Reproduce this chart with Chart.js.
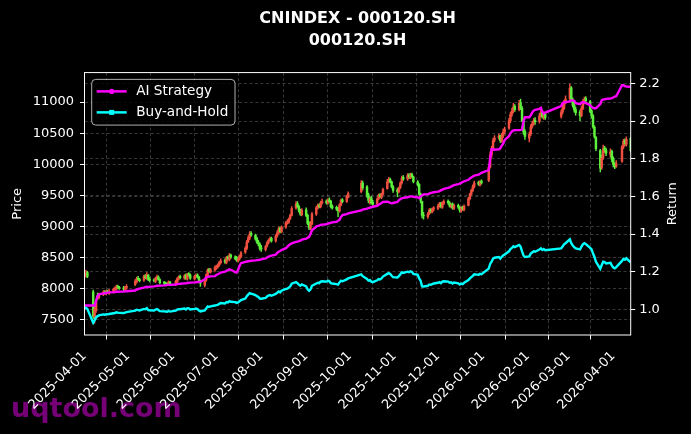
<!DOCTYPE html>
<html>
<head>
<meta charset="utf-8">
<script src="https://cdn.jsdelivr.net/npm/chart.js@4.4.1/dist/chart.umd.min.js"></script>
<style>
  html, body { margin: 0; padding: 0; background: #000; }
  #wrap { width: 691px; height: 434px; }
</style>
</head>
<body>
<div id="wrap"><canvas id="chart" width="691" height="434"></canvas></div>
<script>
// market closed on these weekdays
const holidays = ['2025-04-04', '2025-05-01', '2025-05-02', '2025-05-05', '2025-06-02',
    '2025-10-01', '2025-10-02', '2025-10-03', '2025-10-06', '2025-10-07', '2025-10-08',
    '2026-01-01', '2026-01-02', '2026-02-16', '2026-02-17', '2026-02-18', '2026-02-19',
    '2026-02-20', '2026-02-23', '2026-04-06'];
const firstDay = '2025-04-01';
const lastDay = '2026-04-13';
const tickDates = ['2025-04-01', '2025-05-01', '2025-06-01', '2025-07-01', '2025-08-01', '2025-09-01',
    '2025-10-01', '2025-11-01', '2025-12-01', '2026-01-01', '2026-02-01', '2026-03-01', '2026-04-01'];
const priceTicks = [7500, 8000, 8500, 9000, 9500, 10000, 10500, 11000];
const returnTicks = [1.0, 1.2, 1.4, 1.6, 1.8, 2.0, 2.2];

// OHLC, one row per month
const opens = [
    8190, 8220, 8260, 7950, 7550, 7650, 7880, 7860, 7910, 7950, 7930, 7960, 7930, 7950, 7990, 8000, 8040, 8020, 8010, 7990, 8010,
    8070, 8110, 8170, 8150, 8140, 8210, 8170, 8220, 8150, 8140, 8120, 8160, 8190, 8150, 8100, 8090, 8080, 8060, 8110,
    8070, 8110, 8160, 8200, 8170, 8220, 8160, 8240, 8220, 8160, 8200, 8220, 8190, 8120, 8060, 8140, 8220, 8310, 8270, 8300,
    8330, 8350, 8380, 8420, 8460, 8420, 8510, 8470, 8540, 8510, 8500, 8450, 8480, 8520, 8590, 8650, 8760, 8810, 8890, 8860, 8810, 8750, 8720,
    8660, 8630, 8690, 8740, 8790, 8810, 8770, 8850, 8900, 8970, 8920, 8990, 9070, 9070, 9130, 9180, 9300, 9370, 9320, 9250, 9190,
    9270, 9180, 9060, 8970, 9040, 9200, 9300, 9340, 9320, 9380, 9410, 9380, 9430, 9410, 9330, 9310, 9290, 9250, 9340, 9430, 9400, 9470,
    9560, 9700, 9640, 9510, 9400, 9460, 9390, 9360, 9450, 9510, 9470, 9520, 9610, 9720, 9760, 9720, 9640,
    9590, 9560, 9630, 9700, 9790, 9760, 9830, 9790, 9840, 9800, 9720, 9680, 9520, 9400, 9180, 9160, 9210, 9270, 9240, 9280,
    9290, 9330, 9370, 9310, 9370, 9410, 9380, 9320, 9360, 9290, 9340, 9310, 9250, 9310, 9270, 9340, 9450, 9520, 9580, 9640, 9710, 9670, 9730,
    9740, 9960, 10150, 10250, 10390, 10430, 10460, 10370, 10460, 10520, 10580, 10700, 10800, 10860, 10930, 10880, 10990, 10900, 10700, 10530,
    10420, 10490, 10610, 10660, 10710, 10690, 10780, 10840, 10750, 10810, 10770, 10840, 10900, 11000,
    11060, 11230, 11040, 10950, 10880, 10840, 10780, 10900, 11000, 11060, 11010, 10860, 10780, 10600, 10430, 10220, 9950, 10110, 10260, 10230, 10160, 10210,
    10090, 10000, 9970, 10050, 10280, 10380, 10320, 10420
];
const highs = [
    8270, 8300, 8280, 7980, 7720, 7830, 7930, 7930, 7970, 7970, 7980, 7980, 7990, 8010, 8030, 8060, 8060, 8040, 8040, 8040, 8070,
    8150, 8190, 8200, 8170, 8220, 8230, 8260, 8230, 8180, 8160, 8190, 8220, 8210, 8160, 8120, 8110, 8100, 8130, 8120,
    8140, 8180, 8210, 8220, 8230, 8240, 8250, 8260, 8240, 8220, 8240, 8240, 8200, 8140, 8150, 8240, 8320, 8330, 8330, 8370,
    8380, 8400, 8440, 8480, 8480, 8520, 8530, 8570, 8560, 8530, 8520, 8500, 8540, 8600, 8680, 8780, 8850, 8920, 8920, 8880, 8830, 8780, 8740,
    8700, 8700, 8760, 8800, 8830, 8830, 8870, 8930, 8990, 8990, 9010, 9080, 9110, 9140, 9200, 9320, 9400, 9400, 9340, 9280, 9290,
    9300, 9200, 9080, 9080, 9230, 9330, 9360, 9370, 9410, 9440, 9430, 9450, 9460, 9420, 9350, 9330, 9310, 9370, 9440, 9450, 9500, 9560,
    9740, 9730, 9660, 9540, 9480, 9480, 9420, 9460, 9520, 9530, 9540, 9620, 9760, 9790, 9780, 9730, 9660,
    9620, 9640, 9720, 9810, 9820, 9850, 9850, 9860, 9860, 9810, 9740, 9690, 9540, 9410, 9230, 9230, 9290, 9290, 9300, 9320,
    9360, 9390, 9390, 9400, 9430, 9430, 9400, 9370, 9380, 9360, 9360, 9320, 9320, 9330, 9350, 9470, 9540, 9600, 9670, 9730, 9730, 9740, 9750,
    9970, 10200, 10290, 10420, 10460, 10490, 10470, 10500, 10570, 10600, 10740, 10840, 10900, 10980, 10960, 11030, 11050, 10930, 10730, 10560,
    10520, 10640, 10690, 10740, 10750, 10820, 10880, 10860, 10840, 10830, 10870, 10940, 11030, 11100,
    11290, 11250, 11070, 10980, 10920, 10870, 10930, 11040, 11080, 11090, 11030, 10880, 10800, 10620, 10450, 10240, 10150, 10310, 10290, 10260, 10250, 10230,
    10120, 10030, 10060, 10300, 10400, 10410, 10440, 10430
];
const lows = [
    8170, 8190, 8180, 7520, 7450, 7620, 7820, 7840, 7890, 7910, 7900, 7920, 7910, 7930, 7960, 7980, 8000, 7990, 7970, 7970, 7990,
    8050, 8090, 8130, 8110, 8120, 8160, 8150, 8130, 8110, 8110, 8100, 8140, 8140, 8080, 8070, 8060, 8050, 8050, 8070,
    8050, 8090, 8140, 8160, 8150, 8150, 8140, 8200, 8150, 8140, 8180, 8170, 8100, 8040, 8030, 8120, 8200, 8260, 8250, 8280,
    8310, 8330, 8360, 8400, 8410, 8400, 8460, 8450, 8490, 8470, 8440, 8430, 8460, 8500, 8570, 8630, 8740, 8790, 8840, 8780, 8730, 8690, 8620,
    8600, 8610, 8670, 8720, 8770, 8750, 8750, 8830, 8880, 8900, 8900, 8970, 9040, 9050, 9110, 9170, 9280, 9300, 9230, 9180, 9170,
    9160, 9030, 8950, 8950, 9030, 9180, 9280, 9300, 9300, 9360, 9360, 9360, 9390, 9300, 9280, 9260, 9160, 9230, 9330, 9380, 9390, 9460,
    9540, 9590, 9470, 9380, 9360, 9360, 9340, 9350, 9430, 9460, 9450, 9510, 9600, 9700, 9700, 9620, 9550,
    9480, 9540, 9610, 9680, 9740, 9740, 9770, 9770, 9780, 9700, 9650, 9500, 9380, 9140, 9120, 9130, 9190, 9220, 9220, 9250,
    9270, 9310, 9300, 9290, 9350, 9360, 9310, 9300, 9280, 9270, 9290, 9230, 9230, 9260, 9250, 9330, 9430, 9500, 9560, 9620, 9660, 9650, 9680,
    9720, 9940, 10110, 10220, 10360, 10400, 10350, 10350, 10430, 10490, 10560, 10670, 10770, 10830, 10850, 10860, 10880, 10680, 10480, 10400,
    10360, 10460, 10580, 10630, 10640, 10660, 10760, 10740, 10720, 10720, 10740, 10810, 10880, 10970,
    11030, 11020, 10920, 10840, 10790, 10700, 10760, 10880, 10970, 10990, 10830, 10740, 10580, 10420, 10220, 9880, 9920, 10080, 10190, 10140, 10110, 10040,
    9960, 9930, 9950, 10030, 10250, 10300, 10290, 10200
];
const closes = [
    8230, 8250, 8200, 7560, 7680, 7800, 7870, 7900, 7940, 7930, 7950, 7940, 7960, 7990, 8000, 8030, 8020, 8010, 8000, 8020, 8040,
    8120, 8160, 8150, 8130, 8200, 8180, 8230, 8150, 8140, 8130, 8170, 8190, 8150, 8100, 8090, 8080, 8070, 8110, 8080,
    8120, 8160, 8190, 8180, 8210, 8170, 8230, 8220, 8170, 8200, 8210, 8190, 8120, 8090, 8130, 8220, 8300, 8280, 8310, 8340,
    8360, 8380, 8420, 8450, 8430, 8500, 8480, 8530, 8510, 8490, 8460, 8480, 8520, 8580, 8650, 8750, 8820, 8880, 8860, 8800, 8750, 8720, 8650,
    8640, 8680, 8740, 8780, 8800, 8770, 8850, 8900, 8960, 8920, 8990, 9060, 9080, 9120, 9180, 9290, 9360, 9320, 9250, 9200, 9260,
    9180, 9050, 8980, 9050, 9200, 9300, 9330, 9320, 9380, 9400, 9380, 9420, 9400, 9320, 9300, 9280, 9250, 9350, 9420, 9400, 9480, 9530,
    9700, 9620, 9500, 9420, 9450, 9380, 9360, 9440, 9500, 9480, 9520, 9600, 9720, 9750, 9720, 9640, 9580,
    9560, 9620, 9700, 9780, 9760, 9820, 9790, 9830, 9800, 9720, 9680, 9520, 9420, 9180, 9170, 9200, 9260, 9240, 9280, 9300,
    9330, 9360, 9320, 9380, 9400, 9380, 9330, 9350, 9300, 9340, 9310, 9260, 9300, 9280, 9330, 9450, 9520, 9580, 9640, 9700, 9680, 9720, 9700,
    9950, 10150, 10250, 10380, 10420, 10450, 10380, 10460, 10520, 10560, 10700, 10800, 10850, 10920, 10880, 10980, 10900, 10700, 10520, 10450,
    10480, 10600, 10650, 10700, 10680, 10780, 10830, 10760, 10800, 10750, 10830, 10900, 11000, 11050,
    11220, 11050, 10950, 10880, 10830, 10780, 10900, 11000, 11050, 11020, 10850, 10780, 10600, 10450, 10250, 9940, 10100, 10250, 10230, 10180, 10200, 10080,
    10000, 9960, 10010, 10280, 10370, 10330, 10400, 10220
];

// cumulative return curves (right axis)
const aiStrategy = [
    1.02, 1.02, 1.02, 1.02, 1.02, 1.045, 1.07, 1.08, 1.085, 1.087, 1.086, 1.089, 1.09, 1.091, 1.092, 1.093, 1.093, 1.094, 1.094, 1.095, 1.096,
    1.10, 1.105, 1.108, 1.11, 1.115, 1.118, 1.12, 1.118, 1.12, 1.122, 1.123, 1.125, 1.125, 1.126, 1.127, 1.128, 1.13, 1.13, 1.13,
    1.132, 1.134, 1.135, 1.136, 1.138, 1.138, 1.14, 1.141, 1.142, 1.143, 1.144, 1.145, 1.145, 1.146, 1.16, 1.17, 1.172, 1.174, 1.175, 1.176,
    1.182, 1.186, 1.19, 1.195, 1.2, 1.205, 1.208, 1.212, 1.21, 1.198, 1.195, 1.21, 1.23, 1.245, 1.252, 1.254, 1.255, 1.256, 1.258, 1.26, 1.261, 1.262, 1.263,
    1.265, 1.27, 1.275, 1.28, 1.282, 1.285, 1.29, 1.30, 1.306, 1.31, 1.315, 1.325, 1.332, 1.34, 1.345, 1.35, 1.358, 1.36, 1.362, 1.365, 1.37,
    1.375, 1.38, 1.385, 1.40, 1.42, 1.44, 1.443, 1.445, 1.448, 1.45, 1.452, 1.455, 1.457, 1.46, 1.462, 1.465, 1.47, 1.475, 1.49, 1.50, 1.505, 1.51,
    1.525, 1.53, 1.535, 1.538, 1.54, 1.542, 1.545, 1.55, 1.555, 1.56, 1.565, 1.57, 1.572, 1.57, 1.565, 1.563, 1.565,
    1.57, 1.58, 1.585, 1.59, 1.592, 1.595, 1.598, 1.60, 1.60, 1.598, 1.595, 1.59, 1.60, 1.605, 1.61, 1.612, 1.615, 1.618, 1.62, 1.622,
    1.625, 1.628, 1.632, 1.636, 1.64, 1.645, 1.648, 1.652, 1.656, 1.66, 1.665, 1.668, 1.672, 1.676, 1.68, 1.688, 1.695, 1.70, 1.705, 1.71, 1.715, 1.72, 1.725,
    1.74, 1.80, 1.85, 1.85, 1.848, 1.85, 1.855, 1.87, 1.88, 1.90, 1.92, 1.935, 1.945, 1.95, 1.952, 1.952, 1.953, 1.955, 2.0, 2.02,
    2.02, 2.03, 2.045, 2.055, 2.06, 2.065, 2.07, 2.05, 2.04, 2.045, 2.08, 2.095, 2.10, 2.10,
    2.105, 2.11, 2.11, 2.108, 2.095, 2.09, 2.098, 2.10, 2.10, 2.095, 2.085, 2.075, 2.07, 2.068, 2.068, 2.09, 2.11, 2.115, 2.115, 2.118, 2.12, 2.122,
    2.125, 2.13, 2.132, 2.19, 2.19, 2.185, 2.183, 2.182
];
const buyHold = [
    1.005, 1.008, 1.002, 0.928, 0.942, 0.956, 0.964, 0.968, 0.973, 0.971, 0.974, 0.973, 0.975, 0.979, 0.98, 0.984, 0.982, 0.981, 0.98, 0.982, 0.985,
    0.993, 0.998, 0.996, 0.994, 1.002, 1.0, 1.006, 0.996, 0.995, 0.994, 0.999, 1.001, 0.996, 0.990, 0.989, 0.988, 0.987, 0.991, 0.988,
    0.993, 0.998, 1.001, 1.0, 1.004, 0.999, 1.006, 1.005, 0.999, 1.002, 1.004, 1.001, 0.993, 0.989, 0.994, 1.005, 1.015, 1.012, 1.016, 1.020,
    1.022, 1.024, 1.029, 1.033, 1.031, 1.039, 1.037, 1.043, 1.040, 1.038, 1.034, 1.037, 1.042, 1.049, 1.057, 1.070, 1.078, 1.086, 1.083, 1.076, 1.070, 1.066, 1.057,
    1.056, 1.061, 1.068, 1.073, 1.076, 1.072, 1.082, 1.088, 1.095, 1.090, 1.099, 1.108, 1.110, 1.115, 1.122, 1.136, 1.144, 1.139, 1.131, 1.125, 1.132,
    1.122, 1.106, 1.098, 1.106, 1.125, 1.137, 1.141, 1.139, 1.147, 1.149, 1.147, 1.152, 1.149, 1.139, 1.137, 1.134, 1.131, 1.143, 1.152, 1.149, 1.159, 1.165,
    1.186, 1.176, 1.161, 1.152, 1.155, 1.147, 1.144, 1.154, 1.161, 1.159, 1.164, 1.174, 1.188, 1.192, 1.188, 1.178, 1.171,
    1.169, 1.176, 1.186, 1.196, 1.193, 1.200, 1.197, 1.202, 1.198, 1.188, 1.183, 1.164, 1.152, 1.122, 1.121, 1.125, 1.132, 1.130, 1.134, 1.137,
    1.141, 1.144, 1.139, 1.147, 1.149, 1.147, 1.141, 1.143, 1.137, 1.142, 1.138, 1.132, 1.137, 1.134, 1.141, 1.155, 1.164, 1.171, 1.178, 1.186, 1.183, 1.188, 1.186,
    1.216, 1.241, 1.253, 1.269, 1.274, 1.278, 1.269, 1.279, 1.286, 1.291, 1.308, 1.320, 1.326, 1.335, 1.330, 1.342, 1.333, 1.308, 1.286, 1.278,
    1.281, 1.296, 1.302, 1.308, 1.306, 1.318, 1.324, 1.315, 1.320, 1.314, 1.324, 1.333, 1.345, 1.351,
    1.372, 1.351, 1.339, 1.330, 1.324, 1.318, 1.333, 1.345, 1.351, 1.347, 1.326, 1.318, 1.296, 1.278, 1.253, 1.215, 1.235, 1.253, 1.251, 1.244, 1.247, 1.232,
    1.222, 1.218, 1.224, 1.257, 1.268, 1.263, 1.271, 1.249
];

const DAY = 86400000;
function dayOffset(s) {
    const [y, m, d] = s.split('-').map(Number);
    return (Date.UTC(y, m - 1, d) - Date.UTC(2025, 3, 1)) / DAY;
}
function dateLabel(v) {
    return new Date(Date.UTC(2025, 3, 1) + v * DAY).toISOString().slice(0, 10);
}

// trading days = weekdays minus holidays
const tradingDays = [];
for (let t = dayOffset(firstDay); t <= dayOffset(lastDay); t++) {
    const d = new Date(Date.UTC(2025, 3, 1) + t * DAY);
    const wd = d.getUTCDay();
    if (wd === 0 || wd === 6) continue;
    if (holidays.includes(dateLabel(t))) continue;
    tradingDays.push(t);
}
if (tradingDays.length !== closes.length) console.warn('length mismatch', tradingDays.length, closes.length);

const UP = '#ef4f3f';
const DOWN = '#5cf03c';
const candleColors = closes.map((c, i) => c >= opens[i] ? UP : DOWN);

const wickData = tradingDays.map((x, i) => ({ x: x, y: [lows[i], highs[i]] }));
const bodyData = tradingDays.map((x, i) => ({ x: x, y: [opens[i], closes[i]] }));
const aiData = tradingDays.map((x, i) => ({ x: x, y: aiStrategy[i] }));
const bhData = tradingDays.map((x, i) => ({ x: x, y: buyHold[i] }));

Chart.defaults.font.family = '"DejaVu Sans", sans-serif';
Chart.defaults.color = '#ffffff';

const GRID = 'rgba(150,150,150,0.45)';

const decorPlugin = {
    id: 'decor',
    beforeDraw(chart) {
        const ctx = chart.ctx;
        ctx.save();
        ctx.fillStyle = '#000';
        ctx.fillRect(0, 0, chart.width, chart.height);
        // watermark sits under the tick labels
        ctx.fillStyle = 'rgba(128,0,128,0.92)';
        ctx.font = 'bold 27px "DejaVu Sans"';
        ctx.textAlign = 'left';
        ctx.textBaseline = 'alphabetic';
        ctx.fillText('uqtool.com', 11, 417);
        ctx.restore();
    },
    afterDraw(chart) {
        const ctx = chart.ctx;
        const a = chart.chartArea;
        ctx.save();
        // frame
        ctx.strokeStyle = '#ffffff';
        ctx.lineWidth = 1;
        ctx.strokeRect(a.left, a.top, a.right - a.left, a.bottom - a.top);

        // right axis title, reading bottom to top
        ctx.fillStyle = '#ffffff';
        ctx.font = '13px "DejaVu Sans"';
        ctx.textAlign = 'center';
        ctx.textBaseline = 'middle';
        ctx.translate(673, (a.top + a.bottom) / 2);
        ctx.rotate(-Math.PI / 2);
        ctx.fillText('Return', 0, 0);
        ctx.restore();

        // legend box
        ctx.save();
        const lx = a.left + 7.2, ly = a.top + 6.8, lw = 143.3, lh = 45.7;
        ctx.beginPath();
        ctx.roundRect(lx, ly, lw, lh, 4);
        ctx.fillStyle = 'rgba(0,0,0,0.8)';
        ctx.fill();
        ctx.strokeStyle = 'rgba(204,204,204,0.85)';
        ctx.lineWidth = 1;
        ctx.stroke();
        const items = [
            { text: 'AI Strategy', color: '#ff00ff', marker: 'circle', y: ly + 12 },
            { text: 'Buy-and-Hold', color: '#00ffff', marker: 'square', y: ly + 33 }
        ];
        items.forEach(it => {
            ctx.strokeStyle = it.color;
            ctx.lineWidth = 2.5;
            ctx.beginPath();
            ctx.moveTo(lx + 5, it.y);
            ctx.lineTo(lx + 35, it.y);
            ctx.stroke();
            ctx.fillStyle = it.color;
            if (it.marker === 'circle') {
                ctx.beginPath();
                ctx.arc(lx + 20, it.y, 2.6, 0, Math.PI * 2);
                ctx.fill();
            } else {
                ctx.fillRect(lx + 17.5, it.y - 2.5, 5, 5);
            }
            ctx.fillStyle = '#ffffff';
            ctx.font = '13.6px "DejaVu Sans"';
            ctx.textAlign = 'left';
            ctx.textBaseline = 'middle';
            ctx.fillText(it.text, lx + 44.5, it.y);
        });
        ctx.restore();
    }
};

new Chart(document.getElementById('chart'), {
    type: 'bar',
    data: {
        datasets: [
            {
                type: 'line', label: 'Buy-and-Hold', data: bhData, yAxisID: 'y2', order: 0,
                borderColor: '#00ffff', borderWidth: 2.4, pointRadius: 0, tension: 0
            },
            {
                type: 'line', label: 'AI Strategy', data: aiData, yAxisID: 'y2', order: 1,
                borderColor: '#ff00ff', borderWidth: 2.4, pointRadius: 0, tension: 0
            },
            {
                label: 'body', data: bodyData, yAxisID: 'y', order: 2, grouped: false,
                backgroundColor: candleColors, barThickness: 1.8, minBarLength: 0.8
            },
            {
                label: 'wick', data: wickData, yAxisID: 'y', order: 3, grouped: false,
                backgroundColor: candleColors, barThickness: 0.8
            }
        ]
    },
    options: {
        responsive: false,
        animation: false,
        events: [],
        layout: { padding: 0 },
        plugins: {
            legend: { display: false },
            tooltip: { enabled: false },
            title: {
                display: true,
                fullSize: false,
                text: ['CNINDEX - 000120.SH', '000120.SH'],
                color: '#ffffff',
                font: { size: 16, weight: 'bold', lineHeight: 1.34 },
                padding: { top: 8.6, bottom: 21.1 }
            }
        },
        scales: {
            x: {
                type: 'linear',
                min: dayOffset(firstDay),
                max: dayOffset(lastDay),
                offset: false,
                afterBuildTicks: scale => { scale.ticks = tickDates.map(d => ({ value: dayOffset(d) })); },
                afterFit: scale => { scale.height = 99; },
                ticks: {
                    autoSkip: false, minRotation: 45, maxRotation: 45,
                    color: '#ffffff', font: { size: 13 }, padding: 9,
                    callback: v => dateLabel(v)
                },
                grid: { color: GRID, lineWidth: 0.8, tickColor: '#ffffff', tickLength: 4.5, tickWidth: 1 },
                border: { display: false, dash: [3, 2.5] }
            },
            y: {
                position: 'left',
                min: 7258, max: 11474,
                afterBuildTicks: scale => { scale.ticks = priceTicks.map(v => ({ value: v })); },
                afterFit: scale => { scale.width = 84.5; },
                ticks: { color: '#ffffff', font: { size: 13 }, padding: 6, callback: v => String(v) },
                grid: { color: GRID, lineWidth: 0.8, tickColor: '#ffffff', tickLength: 4.5, tickWidth: 1 },
                border: { display: false, dash: [3, 2.5] },
                title: { display: true, text: 'Price', color: '#ffffff', font: { size: 13 }, padding: { top: 9.5, bottom: 0 } }
            },
            y2: {
                position: 'right',
                min: 0.8635, max: 2.2576,
                afterBuildTicks: scale => { scale.ticks = returnTicks.map(v => ({ value: v })); },
                afterFit: scale => { scale.width = 60.3; },
                ticks: { color: '#ffffff', font: { size: 13 }, padding: 4, callback: v => v.toFixed(1) },
                grid: { color: GRID, lineWidth: 0.8, tickColor: '#ffffff', tickLength: 4.5, tickWidth: 1 },
                border: { display: false, dash: [3, 2.5] }
            }
        }
    },
    plugins: [decorPlugin]
});
</script>
</body>
</html>
